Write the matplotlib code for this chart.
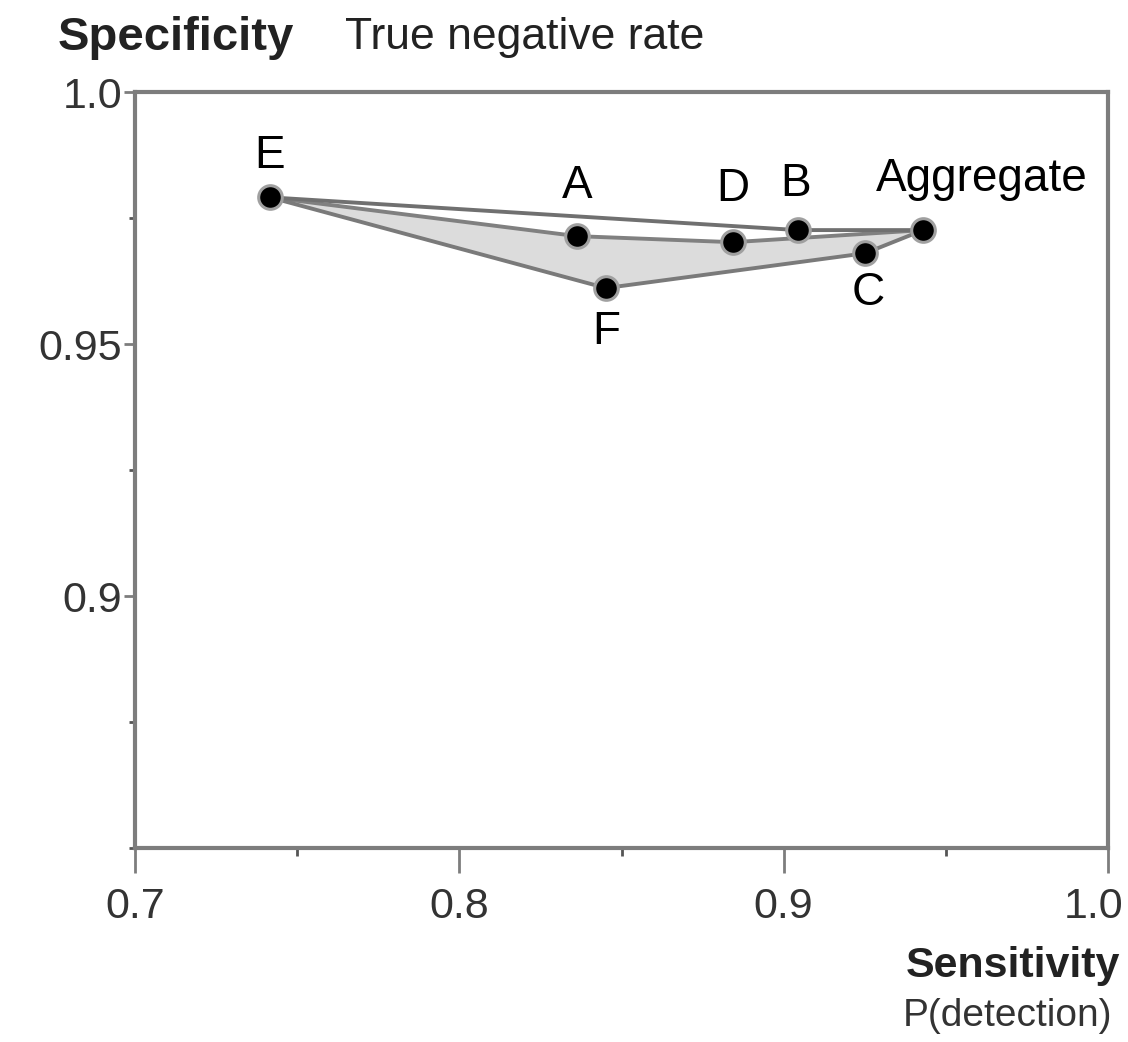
import matplotlib
matplotlib.use("Agg")
import matplotlib.pyplot as plt
import matplotlib.transforms as mtransforms
from matplotlib.ticker import MultipleLocator

# ---- data ----
names = ["E", "A", "F", "D", "B", "C", "Aggregate"]
sensitivity = [0.7416, 0.8363, 0.8452, 0.8844, 0.9044, 0.9251, 0.9430]
specificity = [0.9791, 0.9714, 0.9611, 0.9702, 0.9726, 0.9680, 0.9726]

# paths from E to Aggregate
path_top = ["E", "B", "Aggregate"]
path_mid = ["E", "A", "D", "Aggregate"]
path_low = ["E", "F", "C", "Aggregate"]
fill_poly = ["E", "A", "D", "Aggregate", "C", "F"]

x_ticks = [0.7, 0.8, 0.9, 1.0]
x_ticklabels = ["0.7", "0.8", "0.9", "1.0"]
y_ticks = [0.9, 0.95, 1.0]
y_ticklabels = ["0.9", "0.95", "1.0"]

pt = {n: (x, y) for n, x, y in zip(names, sensitivity, specificity)}

plt.rcParams['font.family'] = ['Liberation Sans', 'DejaVu Sans']

fig = plt.figure(figsize=(11.28, 10.42), dpi=100)
ax = fig.add_axes([135/1128, 1-848/1042, (1108-135)/1128, (848-92)/1042])

ax.set_xlim(0.7, 1.0)
ax.set_ylim(0.85, 1.0)

gray = '#7d7d7d'
fx = [pt[n][0] for n in fill_poly]
fy = [pt[n][1] for n in fill_poly]
ax.fill(fx, fy, color='#dcdcdc', zorder=1, lw=0)

for path, c in [(path_mid, '#808080'), (path_low, '#7a7a7a'), (path_top, '#707070')]:
    ax.plot([pt[n][0] for n in path], [pt[n][1] for n in path],
            color=c, lw=2.8, zorder=2, solid_capstyle='round')

ax.plot(sensitivity, specificity, 'o', ms=17, mfc='black', mec='#a0a0a0',
        mew=2.2, zorder=3, ls='none')

offsets = {"E": (0, 41), "A": (0, 50), "D": (0, 53), "B": (-2, 46),
           "Aggregate": (59, 51), "C": (3, -40), "F": (0, -44)}
for n in names:
    dx, dy = offsets[n]
    ax.annotate(n, pt[n], xytext=(dx, dy), textcoords='offset pixels',
                ha='center', va='center', fontsize=33, color='black', zorder=4)

for s in ax.spines.values():
    s.set_color(gray)
    s.set_linewidth(3)

ax.set_xticks(x_ticks)
ax.set_xticklabels(x_ticklabels)
ax.set_yticks(y_ticks)
ax.set_yticklabels(y_ticklabels)
ax.xaxis.set_minor_locator(MultipleLocator(0.05))
ax.yaxis.set_minor_locator(MultipleLocator(0.025))
ax.tick_params(axis='x', which='major', length=18, width=2, color=gray,
               labelsize=31, pad=10, labelcolor='#333333')
ax.tick_params(axis='x', which='minor', length=6, width=2, color='#555555')
ax.tick_params(axis='y', which='major', length=8, width=2, color=gray,
               labelsize=31, pad=1, labelcolor='#333333')
ax.tick_params(axis='y', which='minor', length=4, width=2, color='#555555')

# shift the last x tick label a bit left so it stays inside the figure
last = ax.get_xticklabels()[-1]
last.set_transform(last.get_transform() +
                   mtransforms.ScaledTranslation(-14/100, 0, fig.dpi_scale_trans))

fig.text(58/1128, 1-38/1042, "Specificity", fontsize=34, fontweight='bold',
         color='#222222', ha='left', va='center')
fig.text(345/1128, 1-38/1042, "True negative rate", fontsize=32,
         color='#222222', ha='left', va='center')
fig.text(1120/1128, 1-966/1042, "Sensitivity", fontsize=31, fontweight='bold',
         color='#222222', ha='right', va='center')
fig.text(1112/1128, 1-1016/1042, "P(detection)", fontsize=28,
         color='#333333', ha='right', va='center')

fig.savefig("out.png", dpi=100)
